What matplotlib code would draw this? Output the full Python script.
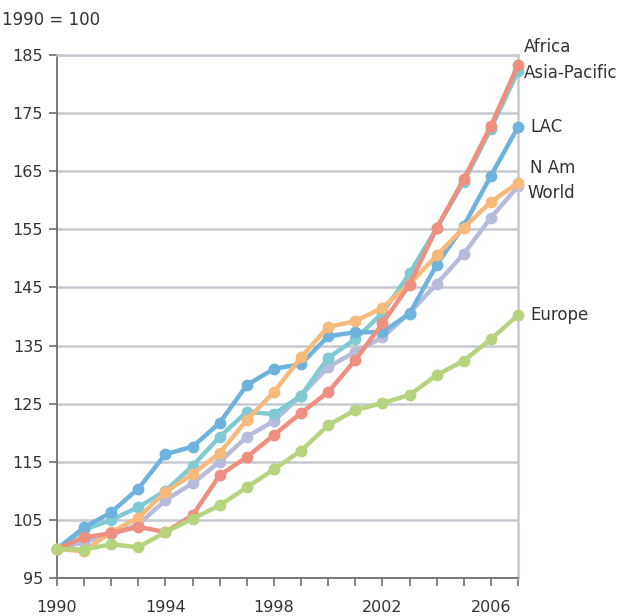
import matplotlib
matplotlib.use("Agg")
import matplotlib.pyplot as plt

years = list(range(1990, 2008))
y_ticks = list(range(95, 186, 10))

africa = [100, 102.0, 102.7, 103.8, 102.9, 105.8, 112.7, 115.8, 119.6, 123.4,
          127.0, 132.5, 138.8, 145.5, 155.2, 163.6, 172.8, 183.3]
asia_pacific = [100, 103.3, 105.0, 107.2, 110.0, 114.3, 119.3, 123.6, 123.2, 126.4,
                132.9, 136.1, 140.6, 147.4, 155.2, 163.2, 172.3, 182.2]
lac = [100, 103.7, 106.3, 110.4, 116.3, 117.6, 121.7, 128.2, 131.0, 131.8,
       136.6, 137.3, 137.3, 140.5, 148.9, 155.6, 164.2, 172.6]
n_am = [100, 99.6, 102.9, 105.4, 109.8, 112.9, 116.5, 122.2, 127.0, 133.0,
        138.2, 139.2, 141.5, 145.6, 150.5, 155.3, 159.7, 163.0]
world = [100, 101.2, 102.5, 104.2, 108.4, 111.3, 115.0, 119.3, 122.0, 126.4,
         131.3, 133.9, 136.4, 140.6, 145.6, 150.8, 157.0, 162.4]
europe = [100, 99.9, 100.8, 100.3, 102.9, 105.2, 107.5, 110.6, 113.7, 116.9,
          121.3, 123.9, 125.1, 126.5, 129.9, 132.4, 136.1, 140.2]

series = [
    # name, values, colour, zorder, label offset (points)
    ("World", world, "#B8BCDC", 2, (7, -5)),
    ("Asia-Pacific", asia_pacific, "#80CAD3", 3, (4, -1)),
    ("LAC", lac, "#6DB3DD", 4, (9, 0)),
    ("N Am", n_am, "#F7BA7B", 5, (9, 11)),
    ("Africa", africa, "#EE8F80", 6, (4, 13)),
    ("Europe", europe, "#B6D47E", 7, (9, 0)),
]

plt.rcParams["font.family"] = ["DejaVu Sans"]

fig = plt.figure(figsize=(6.3, 6.16), dpi=100)
ax = fig.add_axes([0.0905, 0.0617, 0.7317, 0.849])

for name, vals, col, z, off in series:
    ax.plot(years, vals, color=col, lw=3.2, marker="o", ms=7.5,
            zorder=z, clip_on=False, solid_capstyle="round")
    ax.annotate(name, xy=(2007, vals[-1]), xytext=off,
                textcoords="offset points", ha="left", va="center",
                fontsize=12, color="#333333", annotation_clip=False)

ax.set_xlim(1990, 2007)
ax.set_ylim(95, 185)
ax.set_yticks(y_ticks)
ax.set_xticks(years)
ax.set_xticklabels([str(y) if (y - 1990) % 4 == 0 else "" for y in years])

ax.grid(axis="y", color="#C6C9D0", lw=1.8, zorder=0)
ax.set_axisbelow(True)

for s in ["top", "right"]:
    ax.spines[s].set_color("#C6C9D0")
    ax.spines[s].set_linewidth(1.8)
for s in ["left", "bottom"]:
    ax.spines[s].set_color("#707070")
    ax.spines[s].set_linewidth(1.3)

ax.tick_params(axis="both", direction="out", length=6, width=1.2,
               color="#707070", labelsize=11.5, labelcolor="#333333")
ax.tick_params(axis="x", pad=10)
ax.tick_params(axis="y", pad=4)

fig.text(0.003, 0.967, "1990 = 100", fontsize=12, color="#333333",
         ha="left", va="center")

fig.savefig("out.png", dpi=100)
